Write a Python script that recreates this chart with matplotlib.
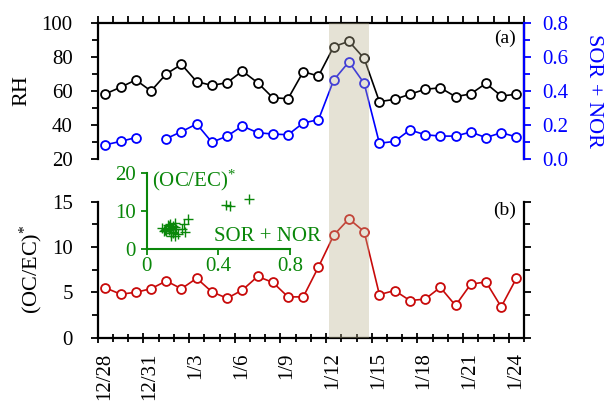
import numpy as np
import matplotlib
matplotlib.use('Agg')
import matplotlib.pyplot as plt
from matplotlib.ticker import MultipleLocator, FixedLocator, NullFormatter, FuncFormatter
from matplotlib.patches import Rectangle
import matplotlib.transforms as mtransforms

plt.rcParams['font.family'] = ['Liberation Serif', 'DejaVu Serif']
plt.rcParams['mathtext.fontset'] = 'custom'
plt.rcParams['mathtext.rm'] = 'Liberation Serif'
plt.rcParams['mathtext.it'] = 'Liberation Serif:italic'

# ---------------- data ----------------
dates = ['12/28', '12/29', '12/30', '12/31', '1/1', '1/2', '1/3', '1/4', '1/5', '1/6',
         '1/7', '1/8', '1/9', '1/10', '1/11', '1/12', '1/13', '1/14', '1/15', '1/16',
         '1/17', '1/18', '1/19', '1/20', '1/21', '1/22', '1/23', '1/24']
rh = [58.3, 62.2, 66.5, 60.0, 70.0, 75.6, 65.5, 63.3, 64.9, 71.7,
      64.9, 56.1, 55.5, 71.3, 68.8, 86.0, 89.1, 79.1, 53.8, 55.1,
      58.1, 61.0, 61.9, 56.7, 58.3, 64.5, 57.1, 58.1]
sor_nor = [0.085, 0.105, 0.127, np.nan, 0.121, 0.162, 0.207, 0.100, 0.136, 0.195,
           0.156, 0.148, 0.144, 0.213, 0.232, 0.464, 0.571, 0.445, 0.094, 0.105,
           0.172, 0.144, 0.136, 0.136, 0.160, 0.127, 0.156, 0.131]
oc_ec = [5.5, 4.8, 5.0, 5.4, 6.25, 5.4, 6.55, 5.05, 4.35, 5.25,
         6.75, 6.1, 4.5, 4.5, 7.8, 11.3, 13.1, 11.7, 4.75, 5.2,
         4.1, 4.25, 5.55, 3.55, 5.9, 6.15, 3.4, 6.55]
tick_labels = dates[::3]
shade_start, shade_end = 14.72, 17.35

x = np.arange(len(dates))
sn = np.array(sor_nor, dtype=float)
oc = np.array(oc_ec, dtype=float)

RED = '#c80a0a'
GREEN = '#0a870a'
BLUE = '#0000ff'
FS = 15

fig = plt.figure(figsize=(6.08, 4.01), dpi=100)
ax1 = fig.add_axes([0.1607, 0.6027, 0.7012, 0.3406])
ax1r = ax1.twinx()
ax2 = fig.add_axes([0.1607, 0.1579, 0.7012, 0.3392])
axin = fig.add_axes([0.2413, 0.379, 0.2357, 0.1888])

mk = dict(marker='o', markersize=6.4, markerfacecolor='white', markeredgewidth=1.3, linewidth=1.2)

# ---------- top panel ----------
ax1.plot(x, rh, color='black', **mk)
ax1r.plot(x, sn, color=BLUE, **mk)
ax1.set_xlim(-0.5, len(dates) - 0.5)
ax1.set_ylim(20, 100)
ax1r.set_ylim(0, 0.8)
for a in (ax1, ax1r):
    a.spines['bottom'].set_visible(False)
    for s in a.spines.values():
        s.set_linewidth(1.6)
ax1r.spines['right'].set_color(BLUE)
ax1r.spines['left'].set_visible(False)
ax1r.spines['top'].set_visible(False)

ax1.xaxis.set_ticks_position('top')
ax1.xaxis.set_major_locator(FixedLocator(np.arange(-0.5, len(dates), 1.0)))
ax1.xaxis.set_major_formatter(NullFormatter())
ax1.tick_params(axis='x', which='major', direction='out', length=5, width=1.3, top=True, bottom=False)

ax1.yaxis.set_major_locator(MultipleLocator(20))
ax1.yaxis.set_minor_locator(MultipleLocator(10))
ax1.tick_params(axis='y', which='major', direction='out', length=5, width=1.3, labelsize=FS, pad=13)
ax1.tick_params(axis='y', which='minor', direction='out', length=4, width=1.3)
ax1.set_ylabel('RH', fontsize=FS + 1, va='center')
ax1.yaxis.set_label_coords(-0.178, 0.5)

ax1r.yaxis.set_major_locator(MultipleLocator(0.2))
ax1r.yaxis.set_minor_locator(MultipleLocator(0.1))
ax1r.yaxis.set_major_formatter(FuncFormatter(lambda v, p: f'{v:.1f}'))
ax1r.tick_params(axis='y', which='major', direction='out', length=5, width=1.3, labelsize=FS,
                 colors=BLUE, pad=8)
ax1r.tick_params(axis='y', which='minor', direction='out', length=4, width=1.3, colors=BLUE)
ax1r.set_ylabel('SOR + NOR', fontsize=FS + 1, color=BLUE, rotation=270, va='center')
ax1r.yaxis.set_label_coords(1.163, 0.5)
ax1.text(0.955, 0.888, '(a)', transform=ax1.transAxes, fontsize=14, ha='center', va='center')

# ---------- bottom panel ----------
ax2.plot(x, oc, color=RED, **mk)
ax2.set_xlim(-0.5, len(dates) - 0.5)
ax2.set_ylim(0, 15)
ax2.spines['top'].set_visible(False)
for s in ax2.spines.values():
    s.set_linewidth(1.6)
ax2.xaxis.set_major_locator(FixedLocator(np.arange(-0.5, len(dates), 3.0)))
ax2.xaxis.set_minor_locator(FixedLocator(np.arange(-0.5, len(dates), 1.0)))
ax2.set_xticklabels(tick_labels, rotation=90, fontsize=FS)
ax2.tick_params(axis='x', which='major', direction='inout', length=7, width=1.3, pad=7)
ax2.tick_params(axis='x', which='minor', direction='inout', length=6, width=1.3)
offset = mtransforms.ScaledTranslation(0.065, 0, fig.dpi_scale_trans)
for lab in ax2.get_xticklabels():
    lab.set_transform(lab.get_transform() + offset)

ax2.yaxis.set_major_locator(MultipleLocator(5))
ax2.yaxis.set_minor_locator(MultipleLocator(2.5))
ax2.tick_params(axis='y', which='both', direction='out', width=1.3, right=True, labelright=False)
ax2.tick_params(axis='y', which='major', length=5, labelsize=FS, pad=13)
ax2.tick_params(axis='y', which='minor', length=4)
ax2.set_ylabel('(OC/EC)$^{*}$', fontsize=FS + 1, va='center')
ax2.yaxis.set_label_coords(-0.155, 0.5)
ax2.text(0.955, 0.939, '(b)', transform=ax2.transAxes, fontsize=14, ha='center', va='center')

# ---------- inset ----------
valid = ~np.isnan(sn)
axin.plot(sn[valid], oc[valid], linestyle='none', marker='+', markersize=6.5, markeredgewidth=1.0,
          color=GREEN)
axin.set_xlim(0, 0.8)
axin.set_ylim(0, 20)
axin.patch.set_alpha(0)
axin.spines['top'].set_visible(False)
axin.spines['right'].set_visible(False)
for s in ('left', 'bottom'):
    axin.spines[s].set_color(GREEN)
    axin.spines[s].set_linewidth(1.5)
axin.xaxis.set_major_locator(FixedLocator([0, 0.4, 0.8]))
axin.xaxis.set_major_formatter(FuncFormatter(lambda v, p: '0' if v == 0 else f'{v:.1f}'))
axin.yaxis.set_major_locator(FixedLocator([0, 10, 20]))
axin.tick_params(axis='both', which='major', direction='out', length=4, width=1.3, colors=GREEN,
                 labelsize=FS)
axin.tick_params(axis='x', pad=2)
axin.tick_params(axis='y', pad=4)
axin.text(0.035, 0.91, '(OC/EC)$^{*}$', transform=axin.transAxes, fontsize=FS, color=GREEN,
          ha='left', va='center')
axin.text(1.215, 0.165, 'SOR + NOR', transform=axin.transAxes, fontsize=FS, color=GREEN,
          ha='right', va='center', clip_on=False)

# ---------- shaded episode (overlay across both panels) ----------
fig.canvas.draw()
p1 = ax1.get_position()
p2 = ax2.get_position()
trans = mtransforms.blended_transform_factory(ax2.transData, fig.transFigure)
rect = Rectangle((shade_start, p2.y0), shade_end - shade_start, p1.y1 - p2.y0,
                 transform=trans, facecolor='#b8af8d', alpha=0.36, edgecolor='none', zorder=10)
fig.add_artist(rect)

fig.savefig('out.png', dpi=100)
